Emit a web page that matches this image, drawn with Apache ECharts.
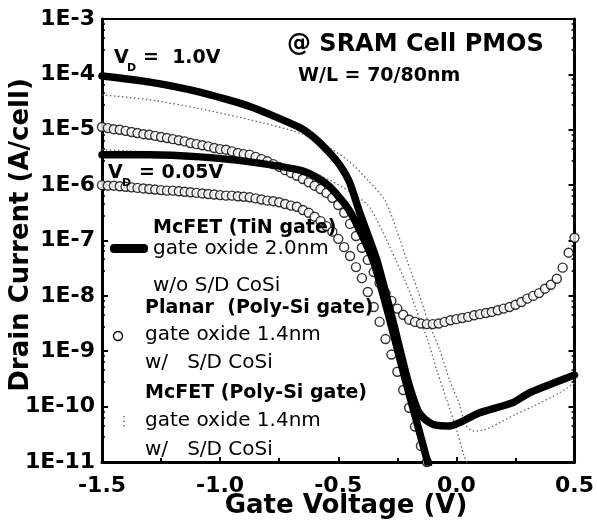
<!DOCTYPE html>
<html><head><meta charset="utf-8">
<script src="https://cdn.jsdelivr.net/npm/echarts@6/dist/echarts.min.js"></script>
<style>html,body{margin:0;padding:0;background:#fff}#c{width:597px;height:530px}</style>
</head><body><div id="c"></div>
<script>
// Gate voltage sweep of the circle (Planar) measurements
const gateV = [
-1.500,-1.475,-1.450,-1.425,-1.400,-1.375,-1.350,-1.325,-1.300,-1.275,
-1.250,-1.225,-1.200,-1.175,-1.150,-1.125,-1.100,-1.075,-1.050,-1.025,
-1.000,-0.975,-0.950,-0.925,-0.900,-0.875,-0.850,-0.825,-0.800,-0.775,
-0.750,-0.725,-0.700,-0.675,-0.650,-0.625,-0.600,-0.575,-0.550,-0.525,
-0.500,-0.475,-0.450,-0.425,-0.400,-0.375,-0.350,-0.325,-0.300,-0.275,
-0.250,-0.225,-0.200,-0.175,-0.150,-0.125,-0.100,-0.075,-0.050,-0.025,
0.000,0.025,0.050,0.075,0.100,0.125,0.150,0.175,0.200,0.225,
0.250,0.275,0.300,0.325,0.350,0.375,0.400,0.425,0.450,0.475,0.500];

// log10 of drain current (A/cell)
const planarHighLog = [
-4.95,-4.97,-4.99,-5.00,-5.02,-5.04,-5.06,-5.08,-5.09,-5.11,
-5.13,-5.15,-5.17,-5.19,-5.21,-5.24,-5.26,-5.28,-5.30,-5.33,
-5.35,-5.36,-5.39,-5.42,-5.44,-5.45,-5.49,-5.53,-5.57,-5.62,
-5.67,-5.73,-5.78,-5.83,-5.89,-5.95,-6.01,-6.07,-6.14,-6.23,
-6.36,-6.50,-6.70,-6.92,-7.13,-7.35,-7.57,-7.77,-7.95,-8.09,
-8.23,-8.34,-8.43,-8.47,-8.50,-8.51,-8.51,-8.50,-8.47,-8.44,
-8.42,-8.40,-8.38,-8.35,-8.33,-8.31,-8.29,-8.26,-8.23,-8.20,
-8.16,-8.11,-8.05,-8.00,-7.95,-7.87,-7.80,-7.69,-7.49,-7.22,
-6.95];
const planarLowLog = [
-6.00,-6.01,-6.01,-6.02,-6.03,-6.04,-6.05,-6.06,-6.07,-6.08,
-6.09,-6.10,-6.10,-6.11,-6.12,-6.13,-6.14,-6.15,-6.16,-6.17,
-6.18,-6.19,-6.19,-6.20,-6.21,-6.22,-6.24,-6.26,-6.28,-6.29,
-6.31,-6.34,-6.37,-6.39,-6.45,-6.50,-6.57,-6.65,-6.74,-6.84,
-6.97,-7.12,-7.28,-7.48,-7.68,-7.93,-8.20,-8.47,-8.78,-9.06,
-9.37,-9.70,-10.02,-10.36,-10.71,-11.00];

const tinHighV   = [-1.5,-1.297,-1.086,-0.874,-0.663,-0.600,-0.536,-0.490,-0.451,-0.409,-0.337,-0.270,-0.206,-0.164,-0.140,-0.120,-0.092,-0.029,0.014,0.098,0.238,0.310,0.5];
const tinHighLog = [-4.03,-4.14,-4.32,-4.58,-4.96,-5.15,-5.42,-5.66,-5.96,-6.50,-7.35,-8.43,-9.52,-10.06,-10.20,-10.27,-10.33,-10.35,-10.29,-10.11,-9.93,-9.75,-9.43];
const tinLowV    = [-1.5,-1.297,-1.086,-0.874,-0.663,-0.600,-0.536,-0.464,-0.420,-0.350,-0.282,-0.216,-0.170,-0.122,-0.109];
const tinLowLog  = [-5.45,-5.45,-5.49,-5.58,-5.73,-5.84,-6.03,-6.39,-6.72,-7.39,-8.43,-9.52,-10.24,-11.0,-11.23];

const polyHighV   = [-1.5,-1.297,-1.086,-0.874,-0.663,-0.536,-0.451,-0.375,-0.303,-0.253,-0.210,-0.164,-0.122,-0.071,-0.029,0.014,0.039,0.073,0.119,0.183,0.246,0.322,0.437,0.5];
const polyHighLog = [-4.37,-4.46,-4.62,-4.82,-5.06,-5.33,-5.58,-5.91,-6.27,-6.81,-7.35,-7.89,-8.43,-8.97,-9.52,-9.97,-10.33,-10.44,-10.42,-10.29,-10.15,-10.00,-9.75,-9.57];
const polyLowV    = [-1.5,-1.297,-1.086,-0.874,-0.663,-0.536,-0.451,-0.375,-0.337,-0.295,-0.257,-0.219,-0.185,-0.155,-0.122,-0.083,-0.041,0.001,0.031,0.048];
const polyLowLog  = [-5.36,-5.40,-5.47,-5.56,-5.69,-5.91,-6.12,-6.36,-6.63,-6.99,-7.35,-7.71,-8.07,-8.43,-8.79,-9.34,-9.88,-10.42,-10.87,-11.05];

const yTickLabels = ['1E-11','1E-10','1E-9','1E-8','1E-7','1E-6','1E-5','1E-4','1E-3'];
const xTickLabels = ['-1.5','-1.0','-0.5','0.0','0.5'];

function pairs(xs, ls) { return ls.map((l, i) => [xs[i], Math.pow(10, l)]); }

const FONT = 'DejaVu Sans';
const chart = echarts.init(document.getElementById('c'), null, {renderer: 'canvas'});

const tickLbl = {fontFamily: FONT, fontWeight: 'bold', fontSize: 22, color: '#000'};

function txt(x, y, s, size, bold, align, rot) {
  const o = {type: 'text', x: x, y: y, z: 50,
    style: {text: s, fontFamily: FONT, fontWeight: bold ? 'bold' : 'normal', fontSize: size,
            fill: '#000', verticalAlign: 'middle', align: align || 'left'}};
  if (rot) o.rotation = rot;
  return o;
}

chart.setOption({
  animation: false,
  backgroundColor: '#fff',
  grid: {left: 102, right: 22, top: 19, bottom: 68, containLabel: false},
  xAxis: [{
    type: 'value', min: -1.5, max: 0.5, interval: 0.5, position: 'bottom',
    axisLine: {show: true, onZero: false, lineStyle: {color: '#000', width: 3}},
    axisTick: {show: true, inside: true, length: 5, lineStyle: {color: '#000', width: 2}},
    minorTick: {show: true, splitNumber: 2, length: 4, lineStyle: {color: '#000', width: 2}},
    splitLine: {show: false},
    axisLabel: Object.assign({margin: 13, formatter: v => xTickLabels[Math.round((v + 1.5) / 0.5)]}, tickLbl)
  }, {
    type: 'value', min: -1.5, max: 0.5, interval: 0.5, position: 'top',
    axisLine: {show: true, onZero: false, lineStyle: {color: '#000', width: 2}},
    axisTick: {show: false}, axisLabel: {show: false}, splitLine: {show: false}
  }],
  yAxis: [{
    type: 'log', logBase: 10, min: 1e-11, max: 1e-3, splitNumber: 8, position: 'left',
    axisLine: {show: true, onZero: false, lineStyle: {color: '#000', width: 3}},
    axisTick: {show: true, inside: true, length: 6, lineStyle: {color: '#000', width: 2}},
    minorTick: {show: true, splitNumber: 5, length: 3, lineStyle: {color: '#000', width: 1.5}},
    splitLine: {show: false},
    axisLabel: Object.assign({margin: 7, formatter: v => yTickLabels[Math.round(Math.log10(v)) + 11]}, tickLbl)
  }, {
    type: 'log', logBase: 10, min: 1e-11, max: 1e-3, splitNumber: 8, position: 'right',
    axisLine: {show: true, onZero: false, lineStyle: {color: '#000', width: 3}},
    axisTick: {show: true, inside: true, length: 6, lineStyle: {color: '#000', width: 2}},
    minorTick: {show: true, splitNumber: 5, length: 3, lineStyle: {color: '#000', width: 1.5}},
    axisLabel: {show: false}, splitLine: {show: false}
  }],
  series: [
    {name: 'McFET (Poly-Si gate) VD=1.0V', type: 'line', data: pairs(polyHighV, polyHighLog),
     showSymbol: false, smooth: 0.25, z: 1,
     lineStyle: {color: '#666', width: 1.3, type: [1.5, 2.5]}},
    {name: 'McFET (Poly-Si gate) VD=0.05V', type: 'line', data: pairs(polyLowV, polyLowLog),
     showSymbol: false, smooth: 0.25, z: 1,
     lineStyle: {color: '#666', width: 1.3, type: [1.5, 2.5]}},
    {name: 'Planar VD=1.0V', type: 'scatter', data: pairs(gateV, planarHighLog), z: 2,
     symbol: 'circle', symbolSize: 9, clip: true,
     itemStyle: {color: '#fff', borderColor: '#000', borderWidth: 1.4}},
    {name: 'Planar VD=0.05V', type: 'scatter', data: pairs(gateV, planarLowLog), z: 2,
     symbol: 'circle', symbolSize: 9, clip: true,
     itemStyle: {color: '#fff', borderColor: '#000', borderWidth: 1.4}},
    {name: 'McFET (TiN gate) VD=1.0V', type: 'line', data: pairs(tinHighV, tinHighLog),
     showSymbol: false, smooth: 0.2, z: 3,
     lineStyle: {color: '#000', width: 7.5, cap: 'round', join: 'round'}},
    {name: 'McFET (TiN gate) VD=0.05V', type: 'line', data: pairs(tinLowV, tinLowLog),
     showSymbol: false, smooth: 0.2, z: 3,
     lineStyle: {color: '#000', width: 7.5, cap: 'round', join: 'round'}}
  ],
  graphic: [
    // axis titles
    txt(346, 506, 'Gate Voltage (V)', 26, true, 'center'),
    txt(21, 235, 'Drain Current (A/cell)', 26, true, 'center', Math.PI / 2),
    // annotations
    txt(287, 45, '@ SRAM Cell PMOS', 24, true),
    txt(298, 76, 'W/L = 70/80nm', 19, true),
    txt(114, 58, 'V', 19, true),
    txt(127, 68, 'D', 11, true),
    txt(143, 58, '=  1.0V', 19, true),
    txt(108, 173, 'V', 19, true),
    txt(122, 183, 'D', 11, true),
    txt(139, 173, '= 0.05V', 19, true),
    // legend
    {type: 'rect', z: 50, shape: {x: 110, y: 244, width: 38, height: 9, r: 4}, style: {fill: '#000'}},
    txt(153, 228, 'McFET (TiN gate)', 19, true),
    txt(153, 249, 'gate oxide 2.0nm', 20, false),
    txt(153, 286, 'w/o S/D CoSi', 20, false),
    txt(145, 308, 'Planar  (Poly-Si gate)', 19, true),
    {type: 'circle', z: 50, shape: {cx: 118, cy: 336, r: 4.5}, style: {fill: '#fff', stroke: '#000', lineWidth: 1.4}},
    txt(145, 335, 'gate oxide 1.4nm', 20, false),
    txt(145, 363, 'w/   S/D CoSi', 20, false),
    txt(145, 393, 'McFET (Poly-Si gate)', 19, true),
    {type: 'line', z: 50, shape: {x1: 124, y1: 416, x2: 124, y2: 429}, style: {stroke: '#555', lineWidth: 1.3, lineDash: [1.5, 3]}},
    txt(145, 421, 'gate oxide 1.4nm', 20, false),
    txt(145, 450, 'w/   S/D CoSi', 20, false)
  ]
});
</script></body></html>
